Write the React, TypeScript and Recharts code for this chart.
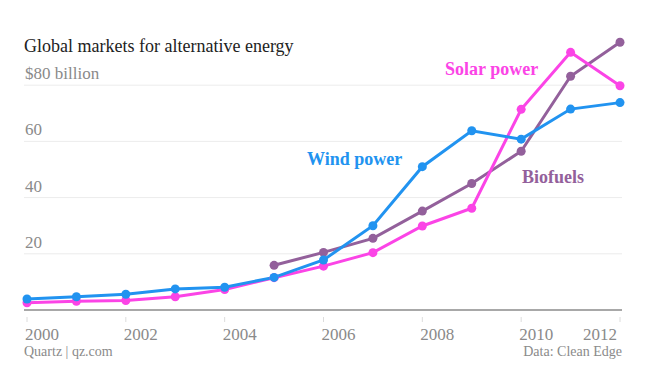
import React from "react";
import { LineChart, Line, XAxis, YAxis, CartesianGrid, ReferenceLine } from "recharts";

const years = [2000, 2001, 2002, 2003, 2004, 2005, 2006, 2007, 2008, 2009, 2010, 2011, 2012];
const wind = [3.9, 4.7, 5.6, 7.5, 8.1, 11.6, 17.8, 30, 51, 63.8, 60.8, 71.5, 73.8];
const solar = [2.6, 3.1, 3.4, 4.7, 7.3, 11.5, 15.6, 20.4, 29.9, 36.2, 71.4, 91.7, 79.8];
const biofuels = [null, null, null, null, null, 15.9, 20.5, 25.5, 35.2, 45, 56.5, 83.2, 95.3];
const xTicks = [2000, 2002, 2004, 2006, 2008, 2010, 2012];
const yTicks = [0, 20, 40, 60, 80];
const gridValues = [20, 40, 60, 80];
const yTickLabels: Record<number, string> = { 0: "", 20: "20", 40: "40", 60: "60", 80: "$80 billion" };

const data = years.map((y, i) => ({ year: y, wind: wind[i], solar: solar[i], biofuels: biofuels[i] }));

const BLUE = "#2193f0";
const PINK = "#fb44e6";
const PURPLE = "#93609b";
const GRAY = "#8a8a8a";
const FONT = "'Liberation Serif', 'DejaVu Serif', serif";

const YTick = (props: any) => {
  const { y, payload } = props;
  return (
    <text x={25} y={y - 6} fill={GRAY} fontSize={17} fontFamily={FONT} textAnchor="start">
      {yTickLabels[payload.value]}
    </text>
  );
};

const XTick = (props: any) => {
  const { x, y, payload } = props;
  const last = payload.value === 2012;
  return (
    <g>
      <line x1={x} x2={x} y1={y - 1} y2={y + 4} stroke="#dcdcdc" strokeWidth={1} />
      <text x={last ? x - 3 : x - 2} y={y + 22} fill={GRAY} fontSize={17} fontFamily={FONT} textAnchor={last ? "end" : "start"}>
        {payload.value}
      </text>
    </g>
  );
};

export default function App() {
  return (
    <div style={{ position: "absolute", left: 0, top: 0, width: 654, height: 391, background: "#fff" }}>
      <LineChart width={654} height={391} data={data} margin={{ top: 29, right: 32, bottom: 0, left: 0 }}>
        <CartesianGrid horizontal vertical={false} horizontalValues={gridValues} stroke="#ececec" strokeWidth={1} />
        <XAxis
          dataKey="year"
          type="number"
          domain={[2000, 2012]}
          ticks={xTicks}
          padding={{ left: 3, right: 2 }}
          height={81}
          axisLine={false}
          tickLine={false}
          tick={<XTick />}
        />
        <YAxis
          domain={[0, 100]}
          ticks={yTicks}
          width={24}
          axisLine={false}
          tickLine={false}
          tick={<YTick />}
        />
        <ReferenceLine y={0} stroke="#a8a8a8" strokeWidth={2} />
        <Line dataKey="biofuels" stroke={PURPLE} strokeWidth={3} dot={{ r: 4.5, fill: PURPLE, stroke: PURPLE, strokeWidth: 0 }} isAnimationActive={false} connectNulls={false} />
        <Line dataKey="solar" stroke={PINK} strokeWidth={3} dot={{ r: 4.5, fill: PINK, stroke: PINK, strokeWidth: 0 }} isAnimationActive={false} />
        <Line dataKey="wind" stroke={BLUE} strokeWidth={3} dot={{ r: 4.5, fill: BLUE, stroke: BLUE, strokeWidth: 0 }} isAnimationActive={false} />
      </LineChart>
      <div style={{ position: "absolute", left: 24, top: 36, fontFamily: FONT, fontSize: 18, color: "#222", whiteSpace: "nowrap" }}>
        Global markets for alternative energy
      </div>
      <div style={{ position: "absolute", left: 307, top: 149, fontFamily: FONT, fontSize: 18, fontWeight: "bold", color: BLUE, whiteSpace: "nowrap" }}>
        Wind power
      </div>
      <div style={{ position: "absolute", left: 445, top: 59, fontFamily: FONT, fontSize: 18, fontWeight: "bold", color: PINK, whiteSpace: "nowrap" }}>
        Solar power
      </div>
      <div style={{ position: "absolute", left: 522, top: 167, fontFamily: FONT, fontSize: 18, fontWeight: "bold", color: PURPLE, whiteSpace: "nowrap" }}>
        Biofuels
      </div>
      <div style={{ position: "absolute", left: 24, top: 344, fontFamily: FONT, fontSize: 14, color: GRAY, whiteSpace: "nowrap" }}>
        Quartz | qz.com
      </div>
      <div style={{ position: "absolute", right: 32, top: 344, fontFamily: FONT, fontSize: 14, color: GRAY, whiteSpace: "nowrap" }}>
        Data: Clean Edge
      </div>
    </div>
  );
}
